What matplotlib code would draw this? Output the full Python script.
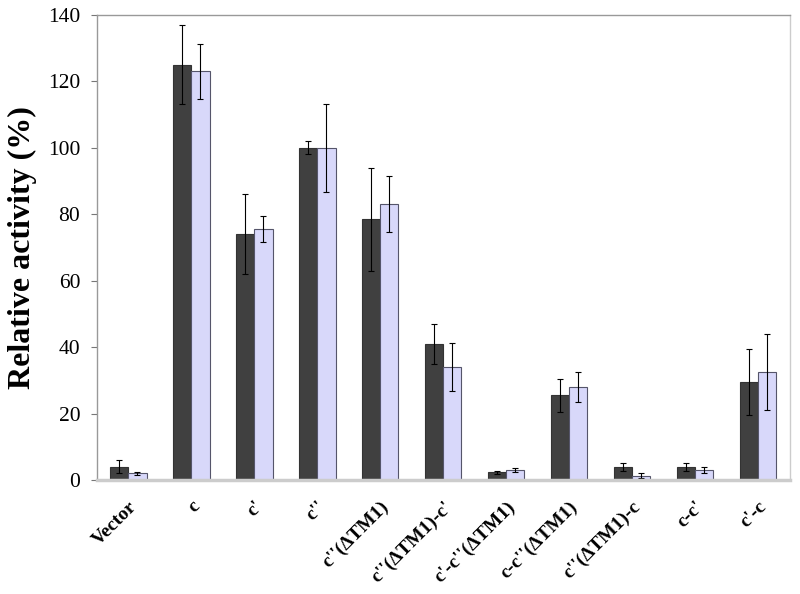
import numpy as np
import matplotlib
matplotlib.use("Agg")
import matplotlib.pyplot as plt

plt.rcParams['font.family'] = ['Liberation Serif', 'DejaVu Serif']

labels = ["Vector", "c", "c'", "c''", "c''(ΔTM1)", "c''(ΔTM1)-c'",
          "c'-c''(ΔTM1)", "c-c''(ΔTM1)", "c''(ΔTM1)-c", "c-c'", "c'-c"]
dark_vals = [4, 125, 74, 100, 78.5, 41, 2.3, 25.5, 4, 4, 29.5]
dark_err = [2, 11.8, 12, 2, 15.5, 6, 0.5, 5, 1.2, 1.2, 9.8]
light_vals = [2, 123, 75.5, 100, 83, 34, 3, 28, 1.3, 3, 32.5]
light_err = [0.5, 8.3, 4, 13.3, 8.5, 7.3, 0.7, 4.5, 0.7, 1, 11.3]

fig = plt.figure(figsize=(8, 5.94), dpi=100)
ax = fig.add_axes([0.121, 0.192, 0.866, 0.783])

x = np.arange(len(labels))
w = 0.29
ax.bar(x - w/2, dark_vals, w, color='#404040', edgecolor='#333333', linewidth=0.8,
       yerr=dark_err, error_kw=dict(ecolor='black', elinewidth=0.8, capsize=2.5, capthick=0.8))
ax.bar(x + w/2, light_vals, w, color='#d8d8fa', edgecolor='#55556a', linewidth=0.8,
       yerr=light_err, error_kw=dict(ecolor='black', elinewidth=0.8, capsize=2.5, capthick=0.8))

ax.set_xlim(-0.5, len(labels) - 0.5)
ax.set_ylim(0, 140)
ax.set_yticks(range(0, 141, 20))
ax.tick_params(axis='y', direction='out', length=4, color='#777777', labelsize=15.5, pad=8)
ax.tick_params(axis='x', length=0, pad=13)
ax.set_xticks(x)
ax.set_xticklabels(labels, rotation=45, ha='right', rotation_mode='anchor',
                   fontsize=14, fontweight='bold')

for s in ['left', 'top', 'right']:
    ax.spines[s].set_color('#999999')
    ax.spines[s].set_linewidth(1)
ax.spines['right'].set_color('#cccccc')
ax.spines['bottom'].set_color('#cccccc')
ax.spines['bottom'].set_linewidth(2.5)

ax.set_ylabel("Relative activity (%)", fontsize=23, fontweight='bold', labelpad=8)

fig.savefig("out.png", dpi=100)
